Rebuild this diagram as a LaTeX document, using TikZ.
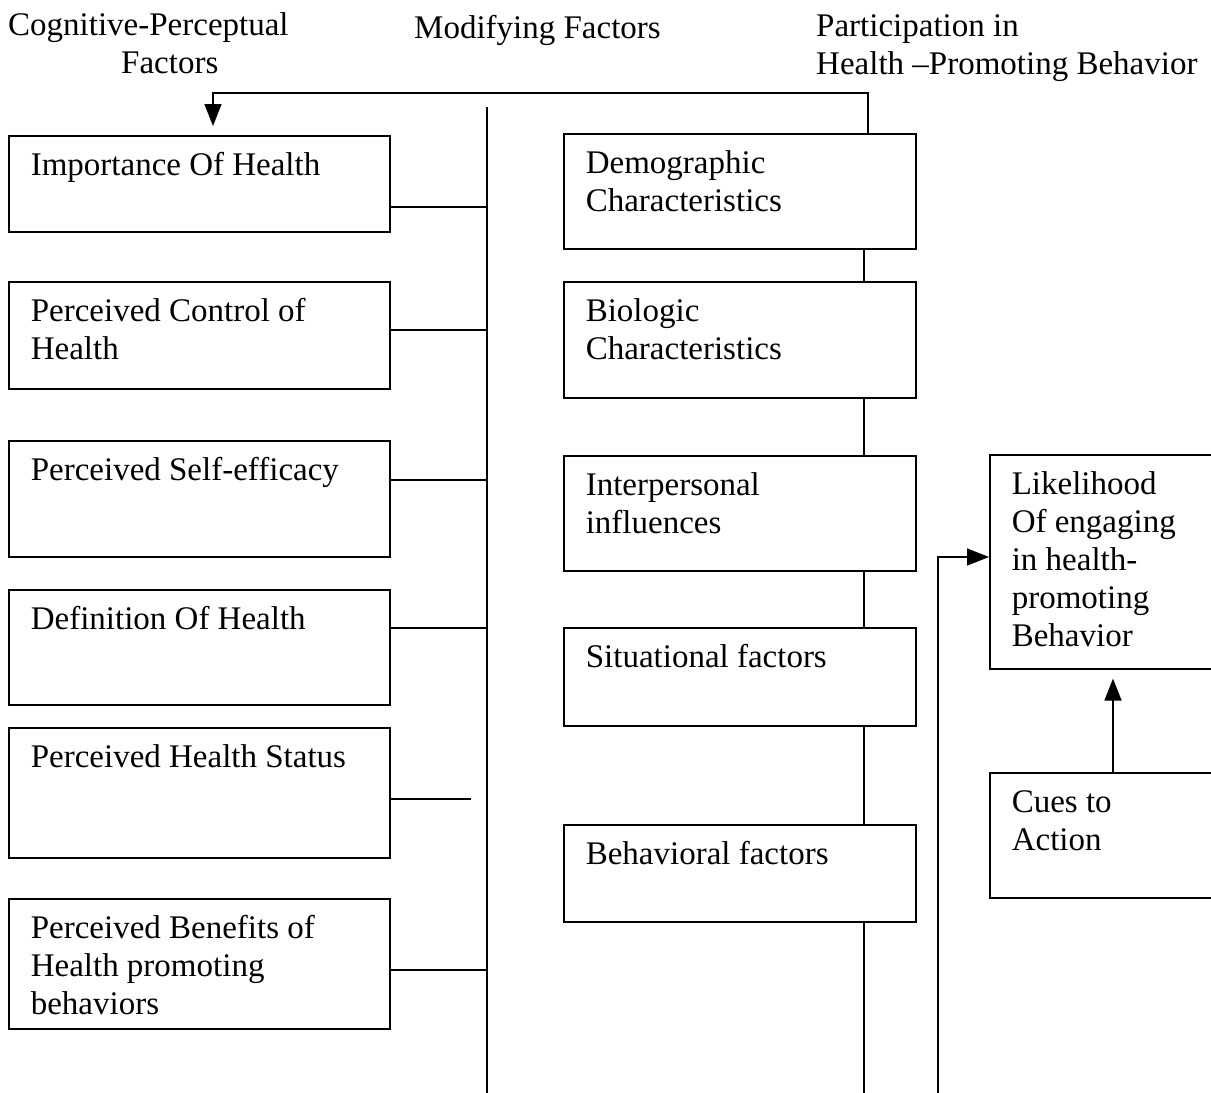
\documentclass[tikz,border=0pt]{standalone}
\usepackage{fontspec}
\setmainfont{Liberation Serif}
\usetikzlibrary{arrows.meta}
\newcommand\bxt[3]{\parbox[c][#2pt][t]{#1pt}{\raggedright\leftskip=22pt\parindent=0pt\fontsize{33}{38}\selectfont\rule{0pt}{40pt}#3\par}}
\tikzset{
  bx/.style={draw, line width=1.6pt, inner sep=0pt, anchor=north west},
  ln/.style={line width=1.6pt},
  arr/.style={line width=1.6pt, -{Triangle[length=22pt,width=17pt]}},
  hd/.style={inner sep=0pt, anchor=base west, align=left, font=\fontsize{33}{38}\selectfont}
}
\begin{document}
\begin{tikzpicture}[x=1pt,y=-1pt]
\useasboundingbox (0,0) rectangle (1211,1093);
\clip (0,0) rectangle (1211,1093);
% headers
\node[hd] (h1) at (8,73) {Cognitive-Perceptual\\\hspace*{113pt}Factors};
\node[hd] (h2) at (414,38) {Modifying Factors};
\node[hd] (h3) at (816,74) {Participation in\\Health –Promoting Behavior};
% left boxes
\node[bx] (L1) at (8,135) {\bxt{381}{96}{Importance Of Health}};
\node[bx] (L2) at (8,281) {\bxt{381}{107}{Perceived Control of\\Health}};
\node[bx] (L3) at (8,440) {\bxt{381}{116}{Perceived Self-efficacy}};
\node[bx] (L4) at (8,589) {\bxt{381}{115}{Definition Of Health}};
\node[bx] (L5) at (8,727) {\bxt{381}{130}{Perceived Health Status}};
\node[bx] (L6) at (8,898) {\bxt{381}{130}{Perceived Benefits of\\Health promoting\\behaviors}};
% middle boxes
\node[bx] (M1) at (563,133) {\bxt{352}{115}{Demographic\\Characteristics}};
\node[bx] (M2) at (563,281) {\bxt{352}{116}{Biologic\\Characteristics}};
\node[bx] (M3) at (563,455) {\bxt{352}{115}{Interpersonal\\influences}};
\node[bx] (M4) at (563,627) {\bxt{352}{98}{Situational factors}};
\node[bx] (M5) at (563,824) {\bxt{352}{97}{Behavioral factors}};
% right boxes
\node[bx] (R1) at (989,454) {\bxt{260}{214}{Likelihood\\Of engaging\\in health-\\promoting\\Behavior}};
\node[bx] (R2) at (989,772) {\bxt{260}{125}{Cues to\\Action}};
% coordinates
\coordinate (vt) at (487,107);
\coordinate (vb) at (487,1093);
\coordinate (xm) at (864,0);
\coordinate (fb) at (868,93);
\coordinate (fl) at (213,93);
\coordinate (mb) at (864,1093);
\coordinate (rb) at (938,1093);
\coordinate (rt) at (938,557);
\coordinate (l5e) at (471,799);
% left spine
\draw[ln] (vt) -- (vb);
\draw[ln] (L1.east |- 0,207) -- (vt |- 0,207);
\draw[ln] (L2.east |- 0,330) -- (vt |- 0,330);
\draw[ln] (L3.east |- 0,480) -- (vt |- 0,480);
\draw[ln] (L4.east |- 0,628) -- (vt |- 0,628);
\draw[ln] (L5.east |- 0,799) -- (l5e);
\draw[ln] (L6.east |- 0,970) -- (vt |- 0,970);
% middle chain
\draw[ln] (M1.south -| xm) -- (M2.north -| xm);
\draw[ln] (M2.south -| xm) -- (M3.north -| xm);
\draw[ln] (M3.south -| xm) -- (M4.north -| xm);
\draw[ln] (M4.south -| xm) -- (M5.north -| xm);
\draw[ln] (M5.south -| xm) -- (mb);
% feedback arrow
\draw[arr, shorten >=9pt] (M1.north -| fb) -- (fb) -- (fl) -- (L1.north -| fl);
% arrow to likelihood
\draw[arr] (rb) -- (rt) -- (R1.west |- rt);
% cues arrow
\draw[arr, shorten >=9pt] (R2.north -| 1113,0) -- (R1.south -| 1113,0);
\end{tikzpicture}
\end{document}
